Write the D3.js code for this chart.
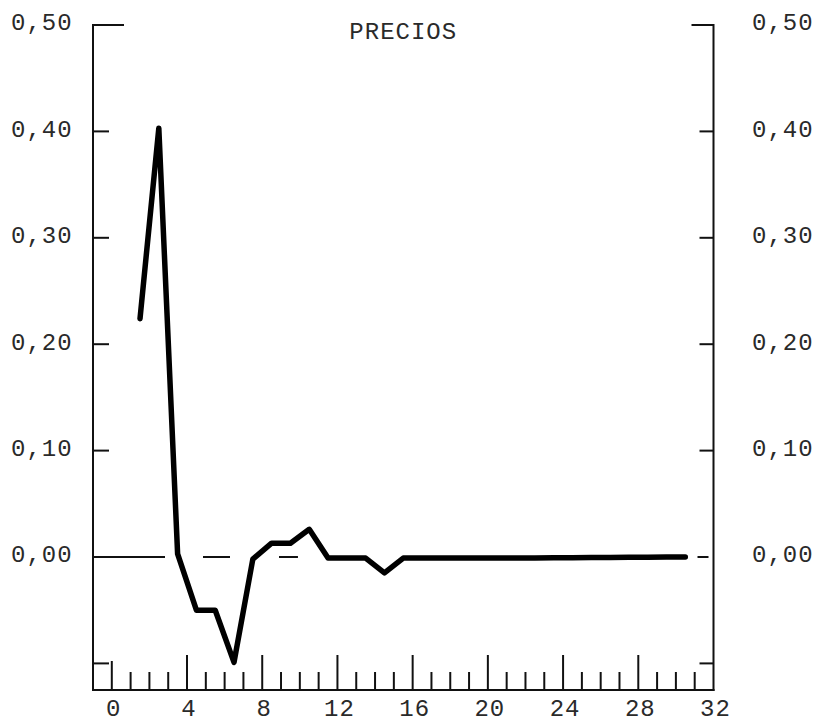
<!DOCTYPE html>
<html>
<head>
<meta charset="utf-8">
<script src="https://cdn.jsdelivr.net/npm/d3@7"></script>
<style>
  body { margin: 0; background: #fff; }
  text { font-family: "Liberation Mono", "Courier New", monospace; font-size: 24px; fill: #2a2a2a; letter-spacing: 1px; }
</style>
</head>
<body>
<svg width="819" height="723"></svg>
<script>
// precios : impulse response, one value per period

var periods = [1.5, 2.5, 3.5, 4.5, 5.5, 6.5, 7.5, 8.5, 9.5, 10.5, 11.5, 12.5, 13.5, 14.5, 15.5,
  16.5, 17.5, 18.5, 19.5, 20.5, 21.5, 22.5, 23.5, 24.5, 25.5, 26.5, 27.5, 28.5, 29.5, 30.5];
var precios = [0.224, 0.403, 0.003, -0.050, -0.050, -0.099, -0.002, 0.013, 0.013, 0.026, -0.001, -0.001, -0.001, -0.015, -0.001,
  -0.001, -0.001, -0.001, -0.001, -0.001, -0.001, -0.001, -0.0008, -0.0006, -0.0005, -0.0004, -0.0003, -0.0002, 0.000, 0.000];

var yTicks = [0.5, 0.4, 0.3, 0.2, 0.1, 0.0, -0.1];
var yLabels = ["0,50", "0,40", "0,30", "0,20", "0,10", "0,00", ""];
var xTicks = d3.range(0, 32);          // small marks on the bottom
var xLabels = [0, 4, 8, 12, 16, 20, 24, 28, 32];
var title = "PRECIOS";

var svg = d3.select("svg");

// left frame is at period -1, right frame at 32
var x = d3.scaleLinear().domain([-1, 32]).range([93, 713.5]);
var y = d3.scaleLinear().domain([-0.125, 0.5]).range([690, 25]);

var ink = "#111";

// frame: two verticals and the bottom rule
svg.append("line").attr("x1", x(-1)).attr("x2", x(-1)).attr("y1", y(0.5) - 1).attr("y2", y(-0.125) + 1)
    .style("stroke", ink).style("stroke-width", 2);
svg.append("line").attr("x1", x(32)).attr("x2", x(32)).attr("y1", y(0.5) - 1).attr("y2", y(-0.125) + 1)
    .style("stroke", ink).style("stroke-width", 2);
svg.append("line").attr("x1", x(-1) - 1).attr("x2", x(32) + 1).attr("y1", y(-0.125)).attr("y2", y(-0.125))
    .style("stroke", ink).style("stroke-width", 2);

// y ticks, the top one is longer
function leftLen(d) { return d == 0.5 ? 31 : 16; }
function rightLen(d) { return d == 0.5 ? 22 : 14; }

svg.selectAll(".ltick").data(yTicks.filter(function(d) { return d != 0; })).enter().append("line")
    .attr("class", "ltick")
    .attr("x1", x(-1)).attr("x2", function(d) { return x(-1) + leftLen(d); })
    .attr("y1", function(d) { return y(d); }).attr("y2", function(d) { return y(d); })
    .style("stroke", ink).style("stroke-width", 2);

svg.selectAll(".rtick").data(yTicks).enter().append("line")
    .attr("class", "rtick")
    .attr("x1", function(d) { return d == 0 ? x(32) - 16 : x(32) - rightLen(d); })
    .attr("x2", function(d) { return d == 0 ? x(32) - 5 : x(32); })
    .attr("y1", function(d) { return y(d); }).attr("y2", function(d) { return y(d); })
    .style("stroke", ink).style("stroke-width", 2);

// zero reference, dashed on the left part only
svg.append("line")
    .attr("x1", x(-1)).attr("x2", x(9.9))
    .attr("y1", y(0)).attr("y2", y(0))
    .style("stroke", ink).style("stroke-width", 2)
    .style("stroke-dasharray", "72,38,27,49,27,200");

// y labels on both sides
svg.selectAll(".ylab").data(yTicks).enter().append("text")
    .attr("class", "ylab")
    .attr("x", 11)
    .attr("y", function(d) { return y(d) - 1; })
    .attr("dominant-baseline", "middle")
    .text(function(d, i) { return yLabels[i]; });
svg.selectAll(".ylab2").data(yTicks).enter().append("text")
    .attr("class", "ylab2")
    .attr("x", 752)
    .attr("y", function(d) { return y(d) - 1; })
    .attr("dominant-baseline", "middle")
    .text(function(d, i) { return yLabels[i]; });

// x ticks: long every 4, medium at 0, short elsewhere
svg.selectAll(".xtick").data(xTicks).enter().append("line")
    .attr("class", "xtick")
    .attr("x1", function(d) { return x(d); }).attr("x2", function(d) { return x(d); })
    .attr("y1", function(d) { return d == 0 ? 661 : (d % 4 == 0 ? 655 : 672); })
    .attr("y2", y(-0.125))
    .style("stroke", ink).style("stroke-width", 2);

svg.selectAll(".xlab").data(xLabels).enter().append("text")
    .attr("class", "xlab")
    .attr("x", function(d) { return x(d) + 2; })
    .attr("y", 716)
    .style("text-anchor", "middle")
    .text(function(d) { return d; });

svg.append("text")
    .attr("x", x(15.5)).attr("y", 39)
    .style("text-anchor", "middle")
    .text(title);

// the series
var line = d3.line()
    .x(function(d, i) { return x(periods[i]); })
    .y(function(d) { return y(d); });

svg.append("path")
    .datum(precios)
    .attr("d", line)
    .style("fill", "none")
    .style("stroke", "#000")
    .style("stroke-width", 5.5)
    .style("stroke-linejoin", "round")
    .style("stroke-linecap", "round");
</script>
</body>
</html>
